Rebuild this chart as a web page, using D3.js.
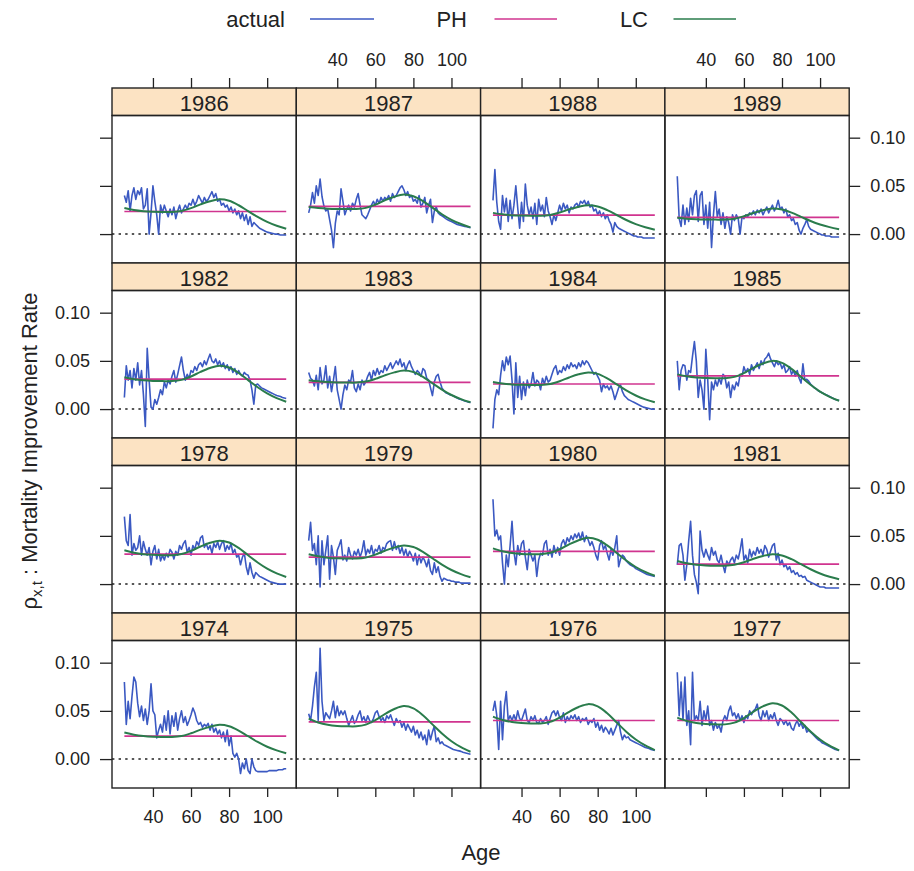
<!DOCTYPE html>
<html><head><meta charset="utf-8">
<script src="https://cdn.jsdelivr.net/npm/d3@7"></script>
<style>
body{margin:0;background:#fff}
svg{display:block}
text{font-family:"Liberation Sans",Arial,Helvetica,sans-serif;fill:#222}
</style>
</head><body>
<svg id="chart" width="914" height="871"></svg>
<script>
// ---------------- DATA ----------------
const panelYears = [1986,1987,1988,1989,1982,1983,1984,1985,1978,1979,1980,1981,1974,1975,1976,1977];
const ageFirst = 25, ageLast = 110;
const lcAges = [25,30,35,40,45,50,55,60,65,70,75,80,85,90,95,100,105,110];
const xTickValues = [40,60,80,100];
const yTickValues = [0,0.05,0.10];
const yTickLabels = ["0.00","0.05","0.10"];
const seriesNames = ["actual","PH","LC"];

// PH (constant improvement rate) per year, same order as panelYears
const phLevels = [0.0234,0.0287,0.0197,0.0173, 0.031,0.0276,0.026,0.0345, 0.031,0.028,0.034,0.0207, 0.0238,0.0386,0.040,0.040];

// LC fitted curves at lcAges
const lc1974=[.0276,.0253,.0239,.0232,.0230,.0230,.0240,.0268,.0305,.0336,.0355,.0340,.0296,.0237,.0178,.0128,.0090,.0060];
const lc1975=[.042,.038,.0356,.0344,.034,.034,.0357,.0403,.0466,.0519,.055,.0526,.0455,.0360,.0266,.0185,.0123,.0076];
const lc1976=[.044,.0405,.0384,.0374,.037,.037,.0386,.043,.049,.054,.057,.0546,.0475,.0379,.0284,.0203,.0141,.0093];
const lc1977=[.043,.0395,.0374,.0364,.036,.036,.0378,.0426,.0492,.0547,.058,.0556,.0482,.0384,.0286,.0203,.0139,.009];
const lc1978=[.035,.0325,.031,.0303,.030,.030,.0312,.0345,.039,.0428,.045,.0431,.0375,.0299,.0224,.0160,.0111,.0073];
const lc1979=[.031,.0288,.0274,.0267,.0265,.0265,.0276,.0306,.0346,.0380,.040,.0384,.0334,.0268,.0202,.0146,.0103,.007];
const lc1980=[.037,.034,.0322,.0313,.031,.031,.0324,.0361,.0412,.0455,.048,.046,.0401,.0323,.0244,.0177,.0126,.0087];
const lc1981=[.024,.0215,.020,.0193,.019,.019,.020,.0226,.0262,.0292,.031,.0297,.0258,.0206,.0154,.011,.0076,.005];
const lc1982=[.033,.031,.0298,.0292,.029,.029,.0303,.0338,.0386,.0426,.045,.0431,.0375,.030,.0226,.0162,.0113,.0076];
const lc1983=[.030,.0288,.028,.0276,.0275,.0275,.0285,.0313,.035,.0381,.040,.0384,.0334,.0268,.0202,.0146,.0103,.007];
const lc1984=[.028,.0265,.0256,.0252,.025,.025,.026,.0289,.0328,.0361,.038,.0365,.0318,.0256,.0194,.0141,.0101,.007];
const lc1985=[.036,.034,.0328,.0322,.032,.032,.0334,.0374,.0428,.0473,.050,.0479,.0417,.0334,.0252,.0181,.0127,.0086];
const lc1986=[.027,.025,.0238,.0232,.023,.023,.024,.0269,.0308,.0341,.036,.0345,.0299,.0238,.0178,.0126,.0086,.0056];
const lc1987=[.028,.027,.0264,.0261,.026,.026,.0272,.0305,.035,.0388,.041,.0393,.0342,.0274,.0206,.0148,.0104,.007];
const lc1988=[.022,.0205,.0196,.0192,.019,.019,.0199,.0223,.0256,.0284,.030,.0287,.0249,.0198,.0146,.0103,.0070,.0044];
const lc1989=[.017,.016,.0154,.0151,.015,.015,.0159,.0185,.0219,.0248,.0265,.0254,.0222,.0179,.0136,.010,.0072,.005];

// actual improvement rates, ages 25..110
const actual1974=[.080,.036,.060,.042,.065,.085,.080,.058,.044,.055,
 .040,.052,.036,.050,.078,.050,.046,.022,.030,.036,
 .028,.045,.030,.050,.026,.045,.034,.048,.030,.042,
 .050,.038,.044,.035,.040,.046,.053,.048,.040,.036,
 .038,.033,.036,.034,.037,.030,.036,.028,.032,.026,
 .030,.022,.028,.018,.030,.014,.024,.006,.002,.006,
 .000,-.015,-.004,-.010,.000,-.012,-.015,.000,-.008,-.012,
 -.013,-.013,-.013,-.013,-.013,-.013,-.012,-.012,-.012,-.012,
 -.012,-.011,-.011,-.011,-.010,-.010];
const actual1975=[.047,.040,.055,.075,.090,.040,.115,.060,.040,.048,
 .045,.042,.050,.060,.043,.055,.045,.050,.046,.050,
 .042,.035,.040,.045,.037,.040,.046,.050,.040,.044,
 .038,.045,.040,.038,.042,.048,.050,.044,.040,.043,
 .038,.045,.042,.046,.040,.035,.042,.038,.040,.033,
 .038,.030,.036,.032,.028,.034,.025,.030,.022,.028,
 .020,.025,.015,.030,.020,.028,.034,.018,.022,.016,
 .018,.015,.014,.013,.012,.011,.010,.0095,.009,.0085,
 .008,.007,.0065,.006,.0055,.005];
const actual1976=[.050,.060,.045,.010,.060,.020,.055,.070,.040,.045,
 .040,.046,.040,.050,.042,.040,.046,.052,.040,.038,
 .044,.040,.045,.038,.037,.042,.038,.040,.044,.036,
 .042,.048,.050,.045,.050,.043,.040,.048,.038,.044,
 .040,.045,.042,.046,.040,.044,.038,.042,.040,.043,
 .036,.040,.038,.042,.033,.038,.030,.035,.028,.033,
 .030,.026,.032,.025,.030,.035,.040,.028,.020,.025,
 .022,.023,.020,.019,.018,.017,.016,.015,.014,.013,
 .012,.0115,.011,.010,.0095,.009];
const actual1977=[.090,.045,.080,.040,.085,.035,.050,.015,.090,.040,
 .045,.040,.060,.035,.050,.040,.055,.035,.040,.030,
 .038,.032,.035,.028,.040,.045,.040,.050,.055,.045,
 .048,.042,.047,.040,.045,.038,.045,.042,.050,.046,
 .050,.052,.057,.045,.040,.050,.044,.050,.040,.046,
 .042,.048,.040,.035,.042,.040,.036,.040,.035,.038,
 .032,.030,.036,.040,.034,.038,.032,.035,.028,.030,
 .028,.026,.024,.022,.020,.019,.017,.016,.015,.014,
 .013,.012,.011,.010,.0095,.009];
const actual1978=[.070,.045,.040,.072,.030,.042,.035,.038,.050,.030,
 .044,.036,.030,.038,.020,.034,.040,.026,.036,.024,
 .030,.025,.032,.028,.036,.033,.026,.034,.030,.040,
 .036,.042,.045,.033,.038,.030,.040,.036,.044,.040,
 .048,.050,.038,.042,.036,.040,.032,.042,.038,.044,
 .036,.042,.045,.034,.040,.036,.042,.032,.036,.028,
 .030,.020,.028,.032,.018,.010,.022,.012,.006,.012,
 .010,.008,.007,.006,.005,.004,.003,.002,.0015,.001,
 .0005,.000,.000,.000,.000,.000];
const actual1979=[.045,.064,.035,.042,.020,.050,-.003,.045,.020,.035,
 .050,.005,.040,.028,.010,.035,.040,.046,.025,.030,
 .024,.038,.030,.026,.034,.030,.036,.028,.034,.045,
 .030,.036,.032,.040,.030,.036,.034,.040,.032,.038,
 .036,.042,.044,.045,.035,.044,.036,.040,.032,.038,
 .030,.036,.028,.034,.030,.024,.032,.020,.030,.022,
 .028,.024,.018,.026,.014,.010,.022,.012,.018,.008,
 .003,.006,.005,.004,.004,.003,.003,.002,.002,.002,
 .001,.001,.001,.001,.001,.001];
const actual1980=[.088,.050,.056,.046,.050,.022,.000,.030,.018,.040,
 .065,.034,.020,.040,.030,.042,.045,.028,.015,.036,
 .030,.024,.030,.008,.025,.032,.030,.042,.045,.030,
 .036,.028,.040,.032,.038,.030,.042,.046,.040,.048,
 .044,.050,.046,.052,.048,.053,.046,.054,.044,.050,
 .046,.040,.044,.038,.030,.025,.040,.045,.036,.040,
 .032,.025,.036,.030,.038,.050,.018,.026,.030,.028,
 .024,.022,.020,.019,.018,.016,.015,.014,.013,.012,
 .011,.010,.0095,.009,.0085,.008];
const actual1981=[.020,.040,.042,.030,.004,.020,.045,.065,.030,.010,
 .002,-.010,.055,.035,.028,.036,.030,.025,.038,.030,
 .034,.025,.022,.030,.020,.012,.024,.020,.025,.028,
 .022,.030,.026,.035,.047,.025,.030,.022,.036,.028,
 .034,.030,.038,.032,.036,.030,.040,.036,.028,.034,
 .040,.042,.025,.032,.020,.025,.018,.020,.015,.018,
 .012,.014,.010,.012,.008,.009,.007,.008,.004,.003,
 .002,.001,.000,-.001,-.002,-.003,-.003,-.003,-.004,-.004,
 -.004,-.004,-.004,-.004,-.004,-.004];
const actual1982=[.012,.045,.030,.040,.022,.042,.030,.048,.025,.040,
 .015,-.018,.063,.030,.002,.000,.010,.005,.012,.020,
 .015,.028,.022,.030,.026,.034,.040,.028,.036,.045,
 .054,.040,.030,.036,.032,.040,.038,.044,.040,.046,
 .048,.044,.050,.046,.052,.057,.050,.048,.052,.046,
 .050,.044,.048,.042,.046,.040,.044,.038,.042,.036,
 .040,.036,.034,.038,.036,.035,.030,.020,.005,.025,
 .026,.024,.022,.021,.020,.019,.018,.017,.016,.015,
 .014,.0135,.013,.012,.0115,.011];
const actual1983=[.038,.032,.030,.024,.035,.020,.043,.026,.030,.045,
 .022,.034,.018,.030,.044,.020,.010,.000,.015,.025,
 .020,.030,.028,.040,.022,.018,.026,.020,.030,.025,
 .028,.034,.038,.030,.040,.035,.042,.036,.040,.038,
 .045,.040,.044,.048,.042,.046,.050,.046,.052,.044,
 .048,.040,.046,.050,.044,.040,.036,.040,.038,.034,
 .042,.040,.032,.030,.022,.014,.028,.034,.036,.028,
 .022,.019,.017,.016,.015,.0145,.0135,.0125,.0115,.0105,
 .0100,.0092,.0085,.0078,.0072,.0068];
const actual1984=[-.020,.010,.020,.015,.035,.050,.040,.054,.046,.055,
 .030,-.005,.048,.012,.034,.010,.028,.014,.030,.022,
 .026,.038,.024,.030,.028,.020,.032,.026,.034,.028,
 .030,.036,.042,.045,.036,.040,.038,.044,.040,.046,
 .042,.048,.044,.046,.042,.048,.044,.050,.046,.050,
 .048,.044,.040,.036,.038,.034,.030,.018,.026,.022,
 .024,.020,.024,.018,.010,.016,.022,.025,.018,.014,
 .012,.010,.009,.008,.007,.006,.005,.004,.003,.002,
 .0015,.001,.0005,.000,.000,.000];
const actual1985=[.050,.020,.040,.046,.045,.030,.040,.038,.055,.070,
 .050,.012,.030,.020,.000,.062,.030,-.011,.028,.020,
 .030,.024,.032,.026,.036,.034,.022,.028,.012,.025,
 .020,.028,.024,.036,.034,.044,.038,.042,.036,.046,
 .040,.044,.048,.042,.050,.046,.052,.054,.058,.052,
 .048,.044,.050,.046,.048,.042,.046,.038,.040,.044,
 .036,.040,.034,.040,.032,.027,.047,.030,.031,.029,
 .026,.024,.022,.021,.019,.018,.017,.016,.015,.014,
 .013,.012,.011,.010,.0095,.009];
const actual1986=[.040,.033,.045,.024,.040,.048,.036,.045,.041,.048,
 .026,.030,.047,.000,.022,.050,.034,.020,.000,.030,
 .022,.030,.024,.018,.026,.020,.028,.016,.024,.030,
 .022,.026,.030,.026,.032,.030,.036,.030,.034,.040,
 .036,.032,.038,.034,.036,.040,.044,.038,.042,.034,
 .036,.030,.032,.028,.030,.024,.028,.022,.026,.020,
 .024,.016,.022,.014,.020,.010,.018,.008,.012,.010,
 .008,.006,.005,.004,.003,.002,.0015,.001,.0005,.000,
 .000,-.0005,-.001,-.001,-.001,-.001];
const actual1987=[.022,.030,.043,.032,.050,.040,.057,.039,.029,.024,
 .026,.015,.004,-.014,.011,.024,.020,.047,.034,.020,
 .026,.030,.024,.032,.028,.036,.042,.030,.020,.018,
 .016,.020,.025,.030,.034,.030,.036,.032,.038,.034,
 .038,.036,.040,.034,.042,.038,.040,.044,.048,.050,
 .046,.040,.044,.038,.040,.034,.036,.032,.040,.028,
 .032,.038,.022,.030,.036,.012,.024,.028,.022,.020,
 .019,.0175,.016,.0148,.0138,.013,.012,.011,.010,.0095,
 .009,.0085,.008,.0075,.007,.0065];
const actual1988=[.035,.067,.033,.013,.005,.040,.023,.037,.013,.035,
 .016,.030,.050,.027,.006,.033,.013,.052,.030,.020,
 .028,.016,.032,.010,.036,.024,.030,.018,.038,.024,
 .018,.010,.020,.014,.022,.030,.024,.032,.026,.030,
 .022,.028,.026,.030,.032,.028,.034,.032,.035,.030,
 .034,.028,.030,.024,.026,.020,.024,.018,.022,.016,
 .020,.014,.010,.002,.012,.008,.006,.005,.004,.003,
 .002,.001,.000,-.001,-.002,-.002,-.003,-.003,-.003,-.004,
 -.004,-.004,-.004,-.004,-.004,-.004];
const actual1989=[.060,.016,.008,.030,.010,.027,.013,.037,.020,.040,
 .045,.013,.040,.044,.010,.030,.006,.033,-.014,.020,
 .044,.018,.026,.010,.022,.006,.018,.012,.000,.020,
 .014,.020,.016,.000,.018,.016,.020,.018,.022,.020,
 .024,.020,.025,.022,.026,.020,.024,.028,.022,.026,
 .030,.024,.028,.035,.026,.028,.022,.026,.018,.020,
 .014,.016,.010,.012,.004,.000,.006,.010,.015,.008,
 .005,.004,.003,.002,.001,.000,-.001,-.001,-.002,-.002,
 -.002,-.003,-.003,-.003,-.003,-.003];

const actualByYear = {1974:actual1974,1975:actual1975,1976:actual1976,1977:actual1977,1978:actual1978,1979:actual1979,1980:actual1980,1981:actual1981,1982:actual1982,1983:actual1983,1984:actual1984,1985:actual1985,1986:actual1986,1987:actual1987,1988:actual1988,1989:actual1989};
const lcByYear = {1974:lc1974,1975:lc1975,1976:lc1976,1977:lc1977,1978:lc1978,1979:lc1979,1980:lc1980,1981:lc1981,1982:lc1982,1983:lc1983,1984:lc1984,1985:lc1985,1986:lc1986,1987:lc1987,1988:lc1988,1989:lc1989};

// ---------------- LAYOUT / STYLE ----------------
const colors = {actual:"#3b59c2", PH:"#d0348f", LC:"#2a7c4c"};
const stripFill = "#fce3c3";
const ink = "#222";
const left = 112, panelW = 184.3, top0 = 88, rowPitch = 175, stripH = 27.5, panelH = 147.5;
const xDomain = [18.5, 115.3], yDomain = [-0.030, 0.123];
const ages = d3.range(ageFirst, ageLast + 1);

const svg = d3.select("#chart");
const defs = svg.append("defs");

panelYears.forEach((yr, i) => {
  const r = Math.floor(i / 4), c = i % 4;
  const x0 = left + c * panelW;
  const sTop = top0 + r * rowPitch;
  const pTop = sTop + stripH, pBot = pTop + panelH;
  const x = d3.scaleLinear().domain(xDomain).range([x0, x0 + panelW]);
  const y = d3.scaleLinear().domain(yDomain).range([pBot, pTop]);
  const g = svg.append("g");

  defs.append("clipPath").attr("id", "clip" + i)
    .append("rect").attr("x", x0).attr("y", pTop).attr("width", panelW).attr("height", panelH);

  // strip
  g.append("rect").attr("x", x0).attr("y", sTop).attr("width", panelW).attr("height", stripH)
    .attr("fill", stripFill).attr("stroke", ink).attr("stroke-width", 1.4);
  g.append("text").attr("x", x0 + panelW / 2).attr("y", sTop + 22.5)
    .attr("text-anchor", "middle").attr("font-size", 22).text(yr);

  const plot = g.append("g").attr("clip-path", `url(#clip${i})`);
  // zero reference
  plot.append("line").attr("x1", x0).attr("x2", x0 + panelW).attr("y1", y(0)).attr("y2", y(0))
    .attr("stroke", "#222").attr("stroke-width", 1.5).attr("stroke-dasharray", "2.4,4.2");

  const act = actualByYear[yr];
  const lineA = d3.line().x((d, k) => x(ages[k])).y(d => y(d));
  plot.append("path").attr("d", lineA(act)).attr("fill", "none")
    .attr("stroke", colors.actual).attr("stroke-width", 1.6).attr("stroke-linejoin", "round");

  const ph = phLevels[i];
  plot.append("line").attr("x1", x(ageFirst)).attr("x2", x(ageLast)).attr("y1", y(ph)).attr("y2", y(ph))
    .attr("stroke", colors.PH).attr("stroke-width", 1.7);

  const lc = lcByYear[yr];
  const lineL = d3.line().curve(d3.curveCatmullRom).x((d, k) => x(lcAges[k])).y(d => y(d));
  plot.append("path").attr("d", lineL(lc)).attr("fill", "none")
    .attr("stroke", colors.LC).attr("stroke-width", 2.0);

  // panel border
  g.append("rect").attr("x", x0).attr("y", pTop).attr("width", panelW).attr("height", panelH)
    .attr("fill", "none").attr("stroke", ink).attr("stroke-width", 1.4);

  const styleAxis = (sel) => {
    sel.select(".domain").remove();
    sel.selectAll(".tick line").attr("stroke", ink).attr("stroke-width", 1.3);
    sel.selectAll(".tick text").attr("font-size", 18).attr("fill", "#222")
      .attr("font-family", '"Liberation Sans",Arial,sans-serif');
  };

  if (r === 0) {
    const ax = d3.axisTop(x).tickValues(xTickValues).tickSize(10).tickPadding(12)
      .tickFormat(c % 2 === 1 ? d3.format("d") : () => "");
    g.append("g").attr("transform", `translate(0,${sTop})`).call(ax).call(styleAxis);
  }
  if (r === 3) {
    const ax = d3.axisBottom(x).tickValues(xTickValues).tickSize(9).tickPadding(13)
      .tickFormat(c % 2 === 0 ? d3.format("d") : () => "");
    g.append("g").attr("transform", `translate(0,${pBot})`).call(ax).call(styleAxis);
  }
  if (c === 0) {
    const ax = d3.axisLeft(y).tickValues(yTickValues).tickSize(12).tickPadding(10)
      .tickFormat((d, k) => r % 2 === 1 ? yTickLabels[k] : "");
    g.append("g").attr("transform", `translate(${x0},0)`).call(ax).call(styleAxis);
  }
  if (c === 3) {
    const ax = d3.axisRight(y).tickValues(yTickValues).tickSize(11).tickPadding(10)
      .tickFormat((d, k) => r % 2 === 0 ? yTickLabels[k] : "");
    g.append("g").attr("transform", `translate(${x0 + panelW},0)`).call(ax).call(styleAxis);
  }
});

// legend
const legendItems = [
  {name: seriesNames[0], textRight: 285, l1: 310, l2: 374},
  {name: seriesNames[1], textRight: 467, l1: 494.5, l2: 557},
  {name: seriesNames[2], textRight: 648, l1: 673.5, l2: 736}
];
const leg = svg.append("g");
legendItems.forEach(it => {
  leg.append("text").attr("x", it.textRight).attr("y", 27).attr("text-anchor", "end")
    .attr("font-size", 22).text(it.name);
  leg.append("line").attr("x1", it.l1).attr("x2", it.l2).attr("y1", 19).attr("y2", 19)
    .attr("stroke", colors[it.name]).attr("stroke-width", 1.7);
});

// axis titles
svg.append("text").attr("x", 481).attr("y", 860).attr("text-anchor", "middle")
  .attr("font-size", 22).text("Age");

const yl = svg.append("text").attr("transform", "translate(37,451) rotate(-90)")
  .attr("text-anchor", "middle").attr("font-size", 22);
yl.append("tspan").text("ρ");
yl.append("tspan").attr("font-size", 15).attr("dy", 5).text("x,t");
yl.append("tspan").attr("dy", -5).text(" : Mortality Improvement Rate");
</script>
</body></html>
